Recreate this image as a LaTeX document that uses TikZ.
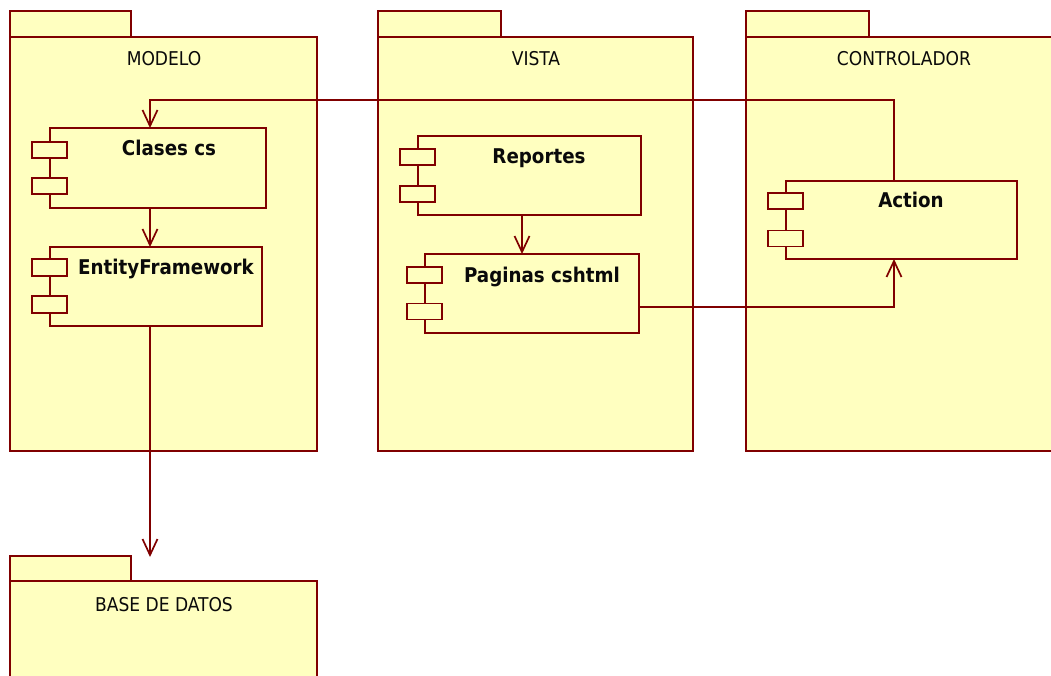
\documentclass[tikz,border=0pt]{standalone}
\usepackage{fontspec}
\setmainfont{DejaVu Sans Condensed}
\usetikzlibrary{arrows.meta}
\definecolor{pkgfill}{RGB}{255,255,192}
\definecolor{umlline}{RGB}{128,0,0}
\definecolor{txtcol}{RGB}{10,10,10}
\begin{document}
\begin{tikzpicture}[x=1pt,y=-1pt,
  box/.style={draw=umlline,fill=pkgfill,line width=1.7pt,rectangle,inner sep=0pt,outer sep=0pt},
  port/.style={box,minimum width=35pt,minimum height=16pt},
  pkgtitle/.style={anchor=base,inner sep=0pt,text=txtcol,font=\fontsize{19pt}{22pt}\selectfont},
  complabel/.style={anchor=base,inner sep=0pt,text=txtcol,font=\fontsize{20.3pt}{23pt}\selectfont\bfseries},
  conn/.style={draw=umlline,line width=1.7pt,-{Straight Barb[length=16pt,width=15pt]}}]
\clip (0,0) rectangle (1051,676);
\fill[white] (0,0) rectangle (1051,676);
% packages
\node[box,minimum width=121pt,minimum height=26pt] (mtab) at (70.5,24) {};
\node[box,minimum width=307pt,minimum height=414pt] (modelo) at (163.5,244) {};
\node[box,minimum width=123pt,minimum height=26pt] (vtab) at (439.5,24) {};
\node[box,minimum width=315pt,minimum height=414pt] (vista) at (535.5,244) {};
\node[box,minimum width=123pt,minimum height=26pt] (ctab) at (807.5,24) {};
\node[box,minimum width=324pt,minimum height=414pt] (control) at (908,244) {};
\node[box,minimum width=121pt,minimum height=25pt] (btab) at (70.5,568.5) {};
\node[box,minimum width=307pt,minimum height=119pt] (base) at (163.5,640.5) {};
\node[pkgtitle] (tmodelo) at (164,66) {MODELO};
\node[pkgtitle] (tvista) at (536,66) {VISTA};
\node[pkgtitle] (tcontrol) at (904,66) {CONTROLADOR};
\node[pkgtitle] (tbase) at (164,611) {BASE DE DATOS};
% components
\node[box,minimum width=216pt,minimum height=80pt] (clases) at (158,168) {};
\node[port] (clasesp1) at (49.5,150) {};
\node[port] (clasesp2) at (49.5,186) {};
\node[complabel] (lclases) at (169,156) {Clases cs};
\node[box,minimum width=212pt,minimum height=79pt] (ef) at (156,286.5) {};
\node[port,minimum height=17pt] (efp1) at (49.5,267.5) {};
\node[port,minimum height=17pt] (efp2) at (49.5,304.5) {};
\node[complabel] (lef) at (166,274) {EntityFramework};
\node[box,minimum width=223pt,minimum height=79pt] (rep) at (529.5,175.5) {};
\node[port] (repp1) at (417.5,157) {};
\node[port] (repp2) at (417.5,194) {};
\node[complabel] (lrep) at (539,164) {Reportes};
\node[box,minimum width=214pt,minimum height=79pt] (pag) at (532,293.5) {};
\node[port] (pagp1) at (424.5,275) {};
\node[port] (pagp2) at (424.5,311.5) {};
\node[complabel] (lpag) at (542,282) {Paginas cshtml};
\node[box,minimum width=231pt,minimum height=78pt] (action) at (901.5,220) {};
\node[port] (actp1) at (785.5,201) {};
\node[port] (actp2) at (785.5,238.5) {};
\node[complabel] (laction) at (911,208) {Action};
% connectors
\coordinate (dbend) at (150,557);
\draw[conn] ([xshift=-7.5pt]action.north) |- (150,100) -- ([xshift=-8pt]clases.north);
\draw[conn] ([xshift=-8pt]clases.south) -- ([xshift=-6pt]ef.north);
\draw[conn] ([xshift=-6pt]ef.south) -- (dbend);
\draw[conn] ([xshift=-7.5pt]rep.south) -- ([xshift=-10pt]pag.north);
\draw[conn] ([yshift=-13.5pt]pag.east) -| ([xshift=-7.5pt]action.south);
\end{tikzpicture}
\end{document}
